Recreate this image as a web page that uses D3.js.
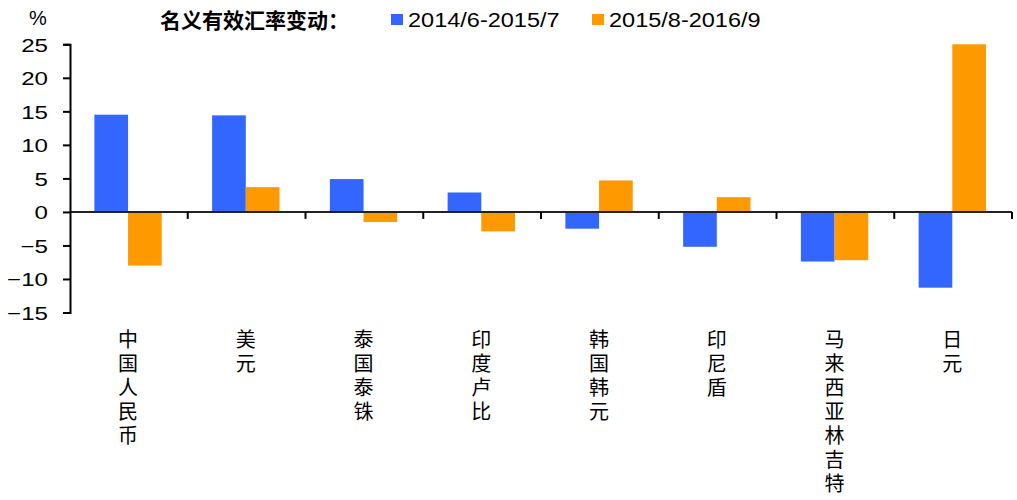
<!DOCTYPE html>
<html><head><meta charset="utf-8">
<script src="https://cdn.jsdelivr.net/npm/d3@7"></script>
<style>
body{margin:0;background:#fff;}
svg{display:block;}
text{font-family:"Liberation Sans",Arial,sans-serif;fill:#000;}
.cjk{font-family:"Noto Sans CJK SC",sans-serif;}
.vert{writing-mode:vertical-rl;text-orientation:upright;letter-spacing:4px;}
</style></head>
<body>
<script>
const categories = ["中国人民币","美元","泰国泰铢","印度卢比","韩国韩元","印尼盾","马来西亚林吉特","日元"];
const seriesNames = ["2014/6-2015/7","2015/8-2016/9"];
const series1 = [14.5, 14.4, 4.9, 2.9, -2.5, -5.2, -7.4, -11.3];
const series2 = [-8.0, 3.7, -1.5, -2.9, 4.7, 2.2, -7.2, 25.0];
const yTicks = [25,20,15,10,5,0,-5,-10,-15];
const legendTitle = "名义有效汇率变动：";
const unitLabel = "%";
const colors = ["#3366FF","#FF9900"];

const W = 1017, H = 500;
const svg = d3.select("body").append("svg").attr("width",W).attr("height",H);

const y = d3.scaleLinear().domain([-15,25]).range([312.5,44.3]);
const x0 = d3.scaleBand().domain(categories).range([70,1012]).padding(0);
const step = x0.step();
const x1 = d3.scaleBand().domain([0,1]).range([step*0.207, step*0.779]).padding(0);

const data = categories.map((c,i)=>({c, vals:[series1[i], series2[i]]}));

// bars
const g = svg.append("g");
data.forEach(d=>{
  d.vals.forEach((v,k)=>{
    g.append("rect")
      .attr("x", x0(d.c)+x1(k))
      .attr("width", x1.bandwidth())
      .attr("y", y(Math.max(0,v)))
      .attr("height", Math.abs(y(v)-y(0)))
      .attr("fill", colors[k]);
  });
});

// zero line with ticks at category boundaries
svg.append("g").attr("transform",`translate(0,${y(0)})`)
  .call(g2=>{
    g2.append("line").attr("x1",70).attr("x2",1012).attr("y1",0).attr("y2",0)
      .attr("stroke","#222").attr("stroke-width",2);
    const bounds = d3.range(categories.length+1).map(i=>70+i*step);
    g2.selectAll(".bt").data(bounds.slice(1)).join("line")
      .attr("x1",d=>d).attr("x2",d=>d).attr("y1",0).attr("y2",7)
      .attr("stroke","#000").attr("stroke-width",2);
  });

// y axis
const yAxis = d3.axisLeft(y).tickValues(yTicks).tickSize(7).tickPadding(0).tickSizeOuter(7);
const ya = svg.append("g").attr("transform","translate(70,0)").call(yAxis);
ya.select(".domain").attr("stroke","#000").attr("stroke-width",2);
ya.selectAll(".tick line").attr("stroke","#000").attr("stroke-width",2);
ya.selectAll(".tick text")
  .attr("x",0).attr("dy","0.36em")
  .attr("transform","translate(-22,0) scale(1.27,1)")
  .style("font-size","19px").style("font-family","'Liberation Sans',Arial,sans-serif");

// unit
svg.append("text").attr("x",38).attr("y",25).attr("text-anchor","middle")
  .style("font-size","20px").text(unitLabel);

// category labels (vertical)
svg.append("g").selectAll("text").data(categories).join("text")
  .attr("class","cjk vert")
  .attr("x", d=>x0(d)+step/2 - 1)
  .attr("y", 329)
  .style("font-size","20px")
  .text(d=>d);

// legend
svg.append("text").attr("class","cjk").attr("x",160).attr("y",28)
  .style("font-size","21px").style("font-weight","bold").text(legendTitle);
const legX = [391, 592];
seriesNames.forEach((n,k)=>{
  svg.append("rect").attr("x",legX[k]).attr("y",14).attr("width",12).attr("height",11).attr("fill",colors[k]);
  svg.append("text").attr("x",0).attr("y",0)
    .attr("transform",`translate(${legX[k]+17},27) scale(1.12,1)`)
    .style("font-size","21px").text(n);
});
</script>
</body></html>
